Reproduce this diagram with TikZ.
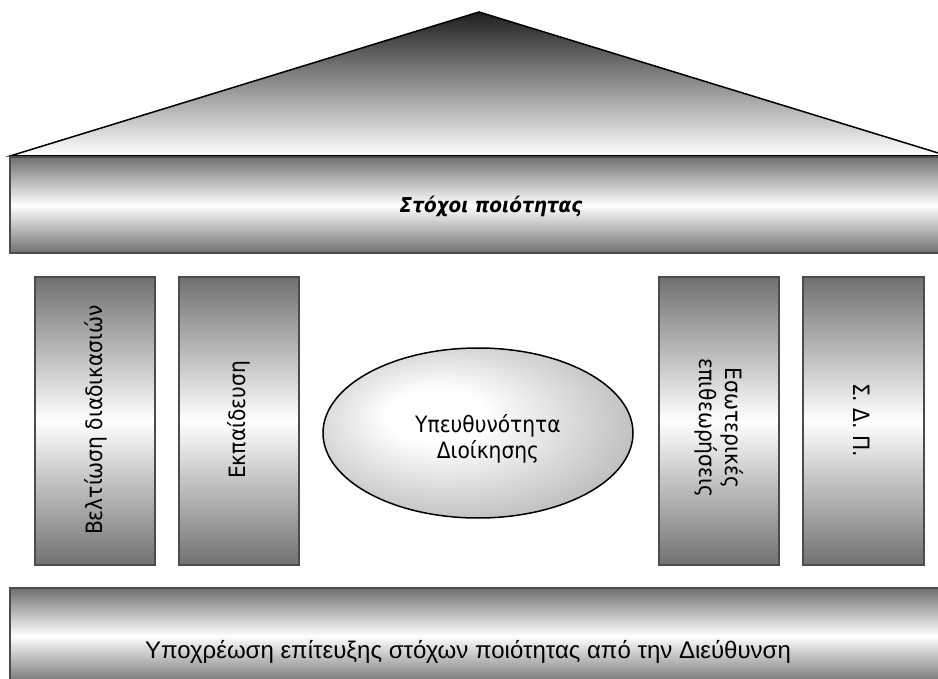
\documentclass[tikz,border=0pt]{standalone}
\usepackage{fontspec}
\setmainfont{Liberation Sans}
\newfontfamily\widesans{DejaVu Sans Condensed}
\definecolor{bargray}{RGB}{112,112,112}
\pgfdeclareradialshading{eggshade}{\pgfpoint{-8bp}{6bp}}{color(0bp)=(white); color(8bp)=(white); color(46bp)=(black!45); color(50bp)=(black!50)}
\tikzset{
  pillar/.style={draw=black!70, line width=1.2pt, top color=bargray, bottom color=bargray, middle color=white},
  greektext/.style={font=\widesans\fontsize{22.5}{26}\selectfont, align=center}
}
\begin{document}
\begin{tikzpicture}[x=1pt,y=-1pt]
\useasboundingbox (0,0) rectangle (938,679); %page size
\draw[line width=1.5pt, top color=black!88, bottom color=white] (10,156) -- (479,12) -- (948,156) -- cycle; %the roof
\draw[pillar] (10,157) rectangle (948,253); %top beam
\draw[pillar] (35,277) rectangle (155,565); %column 1
\draw[pillar] (179,277) rectangle (299,565); %column 2
\draw[pillar] (659,277) rectangle (779,565); %column 3
\draw[pillar] (803,277) rectangle (924,565); %column 4
\draw[pillar] (10,588) rectangle (948,684); %base
\draw[line width=1.5pt, shading=eggshade] (478,433) ellipse (155 and 85); %the egg in the middle
\node[greektext, font=\widesans\bfseries\itshape\fontsize{20.5}{24}\selectfont] (goals) at (491,206) {Στόχοι ποιότητας}; %title of the beam
\node[greektext, rotate=90] (improve) at (96,420) {Βελτίωση διαδικασιών};
\node[greektext, rotate=90] (training) at (239,420) {Εκπαίδευση};
\node[greektext] (duty) at (488,439) {Υπευθυνότητα\\Διοίκησης};
\node[greektext, rotate=-90] (audits) at (719,428) {Εσωτερικές\\επιθεωρήσεις};
\node[greektext, rotate=-90] (sdp) at (862,420) {Σ. Δ. Π.};
\node[font=\fontsize{24}{28}\selectfont] (pledge) at (468,652) {Υποχρέωση επίτευξης στόχων ποιότητας από την Διεύθυνση}; %text of the base
\end{tikzpicture}
\end{document}
